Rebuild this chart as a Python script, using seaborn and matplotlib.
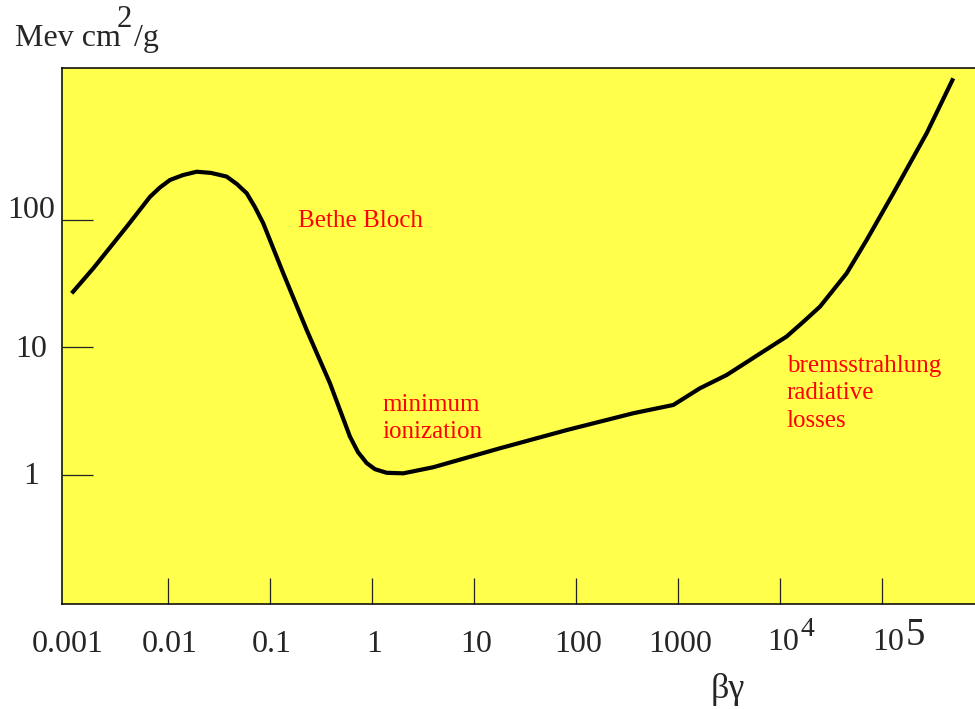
import matplotlib
matplotlib.use("Agg")
import matplotlib.pyplot as plt
import seaborn as sns

# Energy loss versus beta*gamma (log-log)
beta_gamma = [0.001138, 0.001854, 0.003936, 0.006668, 0.00835, 0.01047, 0.01403,
              0.0191, 0.02641, 0.03758, 0.04747, 0.05916, 0.07129, 0.0859,
              0.1349, 0.2291, 0.3873, 0.6081, 0.7295, 0.887, 1.07, 1.393,
              2.028, 3.99, 17.99, 81.1, 364.8, 899.5, 1644, 2999, 11640,
              16800, 24660, 45080, 70790, 129100, 274200, 500000]
energy_loss = [26.6, 41.8, 88.5, 152, 180, 206, 225, 239, 234, 219, 191, 162,
               126, 94.2, 38.2, 13.7, 5.24, 2.0, 1.51, 1.24, 1.11, 1.04, 1.03,
               1.15, 1.62, 2.25, 3.05, 3.54, 4.79, 6.08, 12.2, 15.8, 20.9,
               38.2, 69.7, 162, 479, 1291]

x_ticks = [0.01, 0.1, 1, 10, 100, 1000, 1e4, 1e5]
x_plain_labels = ["0.001", "0.01", "0.1", "1", "10", "100", "1000"]
x_plain_values = [0.001, 0.01, 0.1, 1, 10, 100, 1000]
x_power_values = [1e4, 1e5]
x_power_exps = ["4", "5"]

y_ticks = [1, 10, 100]
y_tick_labels = ["1", "10", "100"]

region_labels = [
    (["Bethe Bloch"], 0.19, 88),
    (["minimum", "ionization"], 1.28, 3.18),
    (["bremsstrahlung", "radiative", "losses"], 11700, 6.43),
]

sns.set_theme(style="white")
plt.rcParams["font.family"] = ["Liberation Serif", "DejaVu Serif"]

W, H = 975, 709
fig = plt.figure(figsize=(W / 100, H / 100), dpi=100)
ax = fig.add_axes([62 / W, 1 - 604 / H, (W - 62) / W, (604 - 68) / H])
ax.set_facecolor("#ffff4c")

sns.lineplot(x=beta_gamma, y=energy_loss, ax=ax, color="black",
             linewidth=3.0, sort=False, estimator=None)
line = ax.lines[0]
line.set_solid_capstyle("butt")
line.set_solid_joinstyle("round")

ax.set_xscale("log")
ax.set_yscale("log")
ax.set_xlim(10 ** -3.039, 10 ** 5.912)
ax.set_ylim(10 ** -1.012, 10 ** 3.192)

for side in ("left", "bottom", "top"):
    ax.spines[side].set_visible(True)
    ax.spines[side].set_color("black")
    ax.spines[side].set_linewidth(1.1)
ax.spines["right"].set_visible(False)

ax.set_xticks(x_ticks)
ax.set_yticks(y_ticks)
ax.xaxis.set_minor_locator(matplotlib.ticker.NullLocator())
ax.yaxis.set_minor_locator(matplotlib.ticker.NullLocator())
ax.set_xticklabels([])
ax.set_yticklabels([])
ax.tick_params(axis="x", direction="in", length=19, width=0.9, color="#222222",
               bottom=True, top=False)
ax.tick_params(axis="y", direction="in", length=22, width=0.9, color="#222222",
               left=True, right=False)

tick_fs = 23

# x tick labels
for val, lab in zip(x_plain_values, x_plain_labels):
    ax.annotate(lab, xy=(val, 0), xycoords=("data", "axes fraction"),
                xytext=(2, -40), textcoords="offset pixels",
                ha="center", va="center", fontsize=tick_fs)
for val, exp, size, dx in zip(x_power_values, x_power_exps, [20, 28], [3, 6]):
    ax.annotate("10", xy=(val, 0), xycoords=("data", "axes fraction"),
                xytext=(dx, -39), textcoords="offset pixels",
                ha="center", va="center", fontsize=tick_fs)
    ax.annotate(exp, xy=(val, 0), xycoords=("data", "axes fraction"),
                xytext=(dx + 18, -13), textcoords="offset pixels",
                ha="left", va="top", fontsize=size)

# y tick labels
for val, lab in zip(y_ticks, y_tick_labels):
    ax.annotate(lab, xy=(0, val), xycoords=("axes fraction", "data"),
                xytext=(-31, -2 if lab != "100" else 9), textcoords="offset pixels",
                ha="center", va="center", fontsize=tick_fs)

# region labels
for lines, xv, yv in region_labels:
    for i, txt in enumerate(lines):
        ax.annotate(txt, xy=(xv, yv), xycoords="data",
                    xytext=(0, -27.5 * i), textcoords="offset pixels",
                    ha="left", va="baseline", fontsize=18, color="red")

# axis titles
fig.text(15 / W, 1 - 46 / H, "Mev cm", ha="left", va="baseline", fontsize=23)
fig.text(117 / W, 1 - 27 / H, "2", ha="left", va="baseline", fontsize=22)
fig.text(134 / W, 1 - 46 / H, "/g", ha="left", va="baseline", fontsize=23)
fig.text(728 / W, 1 - 689 / H, "βγ", ha="center", va="center", fontsize=26)

fig.savefig("out.png", dpi=100)
